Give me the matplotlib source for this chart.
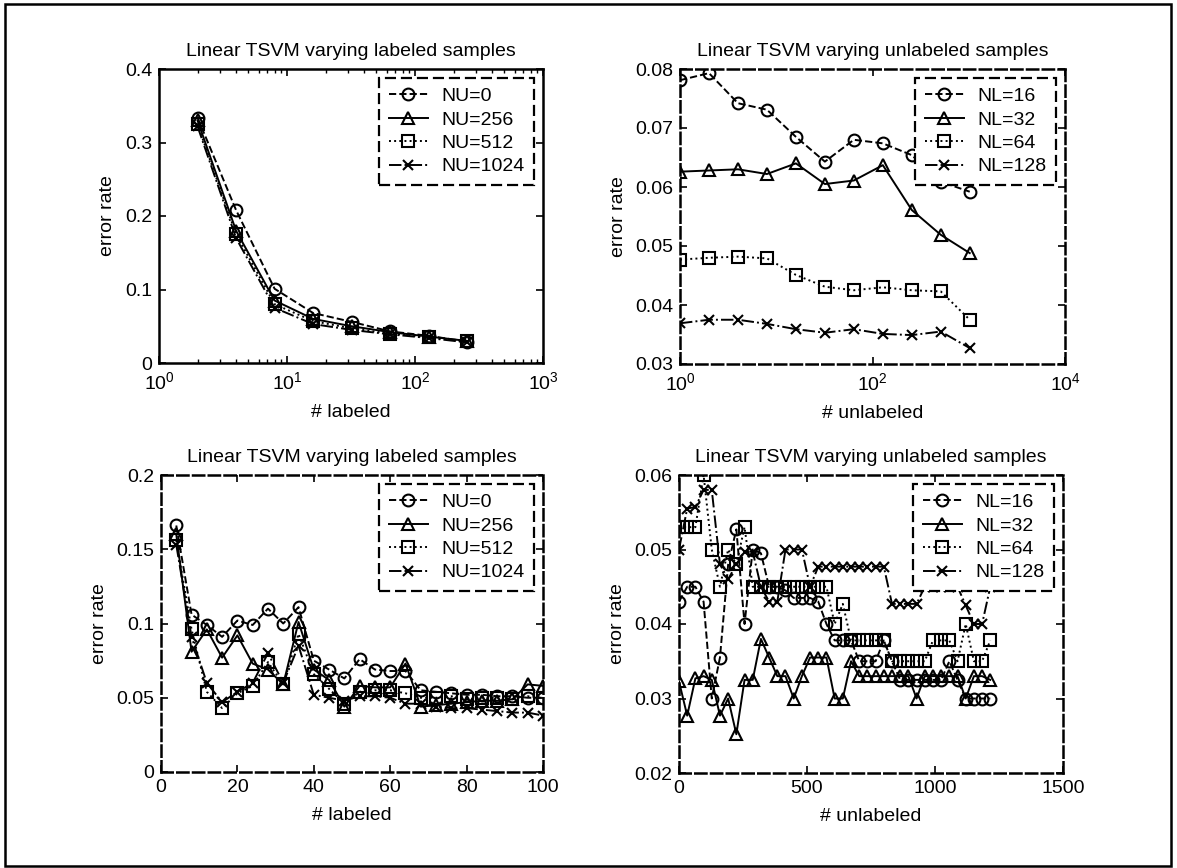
import matplotlib
matplotlib.use('Agg')
import matplotlib.pyplot as plt
from matplotlib.patches import Rectangle
from matplotlib.ticker import FixedLocator, FixedFormatter, NullLocator, LogLocator

plt.rcParams['font.family'] = ['Liberation Sans', 'DejaVu Sans']
plt.rcParams['mathtext.fontset'] = 'custom'
plt.rcParams['mathtext.rm'] = 'Liberation Sans'
plt.rcParams['mathtext.it'] = 'Liberation Sans:italic'

# ---------------- data ----------------
# Top-left: varying labeled samples (log x)
tl_x = [2, 4, 8, 16, 32, 64, 128, 256]
tl_nu0 = [0.334, 0.208, 0.101, 0.068, 0.056, 0.043, 0.037, 0.029]
tl_nu256 = [0.330, 0.180, 0.085, 0.060, 0.050, 0.042, 0.036, 0.030]
tl_nu512 = [0.325, 0.175, 0.080, 0.057, 0.047, 0.040, 0.035, 0.030]
tl_nu1024 = [0.322, 0.170, 0.075, 0.053, 0.045, 0.039, 0.034, 0.028]
tl_labels = ['NU=0', 'NU=256', 'NU=512', 'NU=1024']

# Top-right: varying unlabeled samples (log x)
tr_x = [1, 2, 4, 8, 16, 32, 64, 128, 256, 512, 1024]
tr_nl16 = [0.0781, 0.0793, 0.0742, 0.0731, 0.0685, 0.0643, 0.0680, 0.0674, 0.0654, 0.0609, 0.0592]
tr_nl32 = [0.0626, 0.0628, 0.0630, 0.0622, 0.0640, 0.0605, 0.0611, 0.0637, 0.0561, 0.0519, 0.0488]
tr_nl64 = [0.0477, 0.0480, 0.0482, 0.0479, 0.0451, 0.0431, 0.0425, 0.0430, 0.0425, 0.0423, 0.0375]
tr_nl128 = [0.0369, 0.0375, 0.0375, 0.0368, 0.0359, 0.0353, 0.0359, 0.0351, 0.0349, 0.0355, 0.0327]
tr_labels = ['NL=16', 'NL=32', 'NL=64', 'NL=128']

# Bottom-left: varying labeled samples (linear x)
bl_x = [4, 8, 12, 16, 20, 24, 28, 32, 36, 40, 44, 48, 52, 56, 60, 64, 68, 72, 76, 80, 84, 88, 92, 96, 100]
bl_nu0 = [0.166, 0.106, 0.099, 0.091, 0.102, 0.099, 0.110, 0.100, 0.111, 0.075, 0.069, 0.063, 0.076,
          0.069, 0.068, 0.068, 0.055, 0.054, 0.053, 0.052, 0.052, 0.051, 0.051, 0.050, 0.050]
bl_nu256 = [0.160, 0.081, 0.096, 0.077, 0.092, 0.073, 0.069, 0.059, 0.101, 0.069, 0.062, 0.044, 0.058,
            0.057, 0.057, 0.073, 0.044, 0.045, 0.046, 0.047, 0.048, 0.048, 0.049, 0.059, 0.058]
bl_nu512 = [0.156, 0.096, 0.054, 0.043, 0.053, 0.058, 0.074, 0.059, 0.093, 0.066, 0.056, 0.046, 0.054,
            0.055, 0.055, 0.053, 0.050, 0.050, 0.051, 0.049, 0.050, 0.050, 0.049, 0.051, 0.050]
bl_nu1024 = [0.153, 0.091, 0.060, 0.047, 0.054, 0.060, 0.080, 0.060, 0.085, 0.052, 0.050, 0.048, 0.051,
             0.051, 0.050, 0.046, 0.046, 0.044, 0.043, 0.043, 0.042, 0.041, 0.040, 0.040, 0.038]
bl_labels = ['NU=0', 'NU=256', 'NU=512', 'NU=1024']

# Bottom-right: varying unlabeled samples (linear x)
br_x = [0, 32, 64, 96, 128, 160, 192, 224, 256, 288, 320, 352, 384, 416, 448, 480, 512, 544, 576, 608,
        640, 672, 704, 736, 768, 800, 832, 864, 896, 928, 960, 992, 1024, 1056, 1088, 1120, 1152, 1184, 1216]
br_nl16 = [0.043, 0.045, 0.045, 0.043, 0.030, 0.0355, 0.048, 0.0527, 0.040, 0.050, 0.0495, 0.045, 0.045,
           0.0445, 0.0435, 0.0435, 0.0435, 0.043, 0.040, 0.0378, 0.0378, 0.0378, 0.035, 0.035, 0.035,
           0.0378, 0.035, 0.0325, 0.0325, 0.0325, 0.0325, 0.0325, 0.0325, 0.035, 0.0325, 0.030, 0.030, 0.030, 0.030]
br_nl32 = [0.0323, 0.0277, 0.0327, 0.033, 0.0325, 0.0277, 0.030, 0.0252, 0.0325, 0.0325, 0.038, 0.0355, 0.033,
           0.033, 0.030, 0.033, 0.0355, 0.0355, 0.0355, 0.030, 0.030, 0.035, 0.033, 0.033, 0.033, 0.033,
           0.033, 0.033, 0.033, 0.030, 0.033, 0.033, 0.033, 0.033, 0.033, 0.030, 0.033, 0.033, 0.0325]
br_nl64 = [0.053, 0.053, 0.053, 0.060, 0.050, 0.045, 0.050, 0.048, 0.053, 0.045, 0.045, 0.045, 0.045,
           0.045, 0.045, 0.045, 0.045, 0.045, 0.045, 0.040, 0.0427, 0.0378, 0.0378, 0.0378, 0.0378, 0.0378,
           0.035, 0.035, 0.035, 0.035, 0.035, 0.0378, 0.0378, 0.0378, 0.035, 0.040, 0.035, 0.035, 0.0378]
br_nl128 = [0.050, 0.0555, 0.0557, 0.058, 0.058, 0.048, 0.046, 0.048, 0.0497, 0.0497, 0.045, 0.043, 0.043,
            0.050, 0.050, 0.050, 0.045, 0.0477, 0.0477, 0.0477, 0.0477, 0.0477, 0.0477, 0.0477, 0.0477,
            0.0477, 0.0427, 0.0427, 0.0427, 0.0427, 0.045, 0.045, 0.045, 0.045, 0.045, 0.0425, 0.040, 0.040, 0.045]
br_labels = ['NL=16', 'NL=32', 'NL=64', 'NL=128']

# ---------------- styling ----------------
FS = 14
series_styles = [
    dict(marker='o', linestyle='--', markersize=8.5),
    dict(marker='^', linestyle='-', markersize=9),
    dict(marker='s', linestyle=':', markersize=8.5),
    dict(marker='x', linestyle='-.', markersize=7),
]
W, H = 1177, 868
fig = plt.figure(figsize=(W / 100, H / 100), dpi=100)

def px_axes(l, t, r, b):
    return fig.add_axes([l / W, 1 - b / H, (r - l) / W, (b - t) / H])

def draw(ax, xs, ys_list, labels):
    for ys, st, lab in zip(ys_list, series_styles, labels):
        ax.plot(xs, ys, color='black', lw=1.4, markerfacecolor='none',
                markeredgecolor='black', markeredgewidth=1.5, label=lab, **st)
    leg = ax.legend(loc='upper right', fontsize=FS, frameon=True, fancybox=False,
                    framealpha=1, edgecolor='black', borderaxespad=0.45,
                    handlelength=2.0, handletextpad=0.7, labelspacing=0.3,
                    borderpad=0.5)
    fr = leg.get_frame()
    fr.set_linewidth(1.6)
    fr.set_linestyle((0, (5, 2.2)))

def style(ax, title, xlabel, dashed):
    ax.set_title(title, fontsize=FS, pad=9)
    ax.set_xlabel(xlabel, fontsize=FS, labelpad=8)
    ax.set_ylabel('error rate', fontsize=FS, labelpad=6)
    ax.tick_params(direction='in', top=True, right=True, length=5, width=1.2,
                   labelsize=FS, pad=5)
    ax.tick_params(axis='x', pad=9)
    ax.tick_params(which='minor', direction='in', top=True, right=True, length=3, width=1)
    for sp in ax.spines.values():
        sp.set_linewidth(1.8)
        if dashed:
            sp.set_linestyle((0, (4.5, 1.8)))

def yfmt(ax, ticks):
    ax.yaxis.set_major_locator(FixedLocator(ticks))
    ax.yaxis.set_major_formatter(FixedFormatter(['%g' % t for t in ticks]))
    ax.set_ylim(ticks[0], ticks[-1])

# Top-left
ax1 = px_axes(159, 69, 543, 363)
draw(ax1, tl_x, [tl_nu0, tl_nu256, tl_nu512, tl_nu1024], tl_labels)
ax1.set_xscale('log')
ax1.set_xlim(1, 1000)
ax1.xaxis.set_major_locator(FixedLocator([1, 10, 100, 1000]))
ax1.xaxis.set_major_formatter(FixedFormatter([r'$\mathregular{10^{%d}}$' % i for i in range(4)]))
ax1.xaxis.set_minor_locator(LogLocator(base=10, subs=range(2, 10), numticks=20))
ax1.xaxis.set_minor_formatter(FixedFormatter([]))
yfmt(ax1, [0, 0.1, 0.2, 0.3, 0.4])
style(ax1, 'Linear TSVM varying labeled samples', '# labeled', dashed=False)
ax1.tick_params(axis='x', pad=6)

# Top-right
ax2 = px_axes(680, 69, 1065, 364)
draw(ax2, tr_x, [tr_nl16, tr_nl32, tr_nl64, tr_nl128], tr_labels)
ax2.set_xscale('log')
ax2.set_xlim(1, 10000)
ax2.xaxis.set_major_locator(FixedLocator([1, 100, 10000]))
ax2.xaxis.set_major_formatter(FixedFormatter([r'$\mathregular{10^{%d}}$' % i for i in (0, 2, 4)]))
ax2.xaxis.set_minor_locator(NullLocator())
yfmt(ax2, [0.03, 0.04, 0.05, 0.06, 0.07, 0.08])
style(ax2, 'Linear TSVM varying unlabeled samples', '# unlabeled', dashed=True)
ax2.tick_params(axis='x', pad=6)

# Bottom-left
ax3 = px_axes(161, 475, 543, 772)
draw(ax3, bl_x, [bl_nu0, bl_nu256, bl_nu512, bl_nu1024], bl_labels)
ax3.set_xlim(0, 100)
ax3.xaxis.set_major_locator(FixedLocator([0, 20, 40, 60, 80, 100]))
yfmt(ax3, [0, 0.05, 0.1, 0.15, 0.2])
style(ax3, 'Linear TSVM varying labeled samples', '# labeled', dashed=True)
ax3.tick_params(axis='x', pad=5)

# Bottom-right
ax4 = px_axes(679, 475, 1063, 773)
draw(ax4, br_x, [br_nl16, br_nl32, br_nl64, br_nl128], br_labels)
ax4.set_xlim(0, 1500)
ax4.xaxis.set_major_locator(FixedLocator([0, 500, 1000, 1500]))
yfmt(ax4, [0.02, 0.03, 0.04, 0.05, 0.06])
style(ax4, 'Linear TSVM varying unlabeled samples', '# unlabeled', dashed=True)
ax4.tick_params(axis='x', pad=5)

# Outer frame
fig.patches.append(Rectangle((5 / W, 2 / H), 1166 / W, 862 / H, transform=fig.transFigure,
                             fill=False, edgecolor='black', linewidth=1.8))

fig.savefig('out.png', dpi=100, facecolor='white')
